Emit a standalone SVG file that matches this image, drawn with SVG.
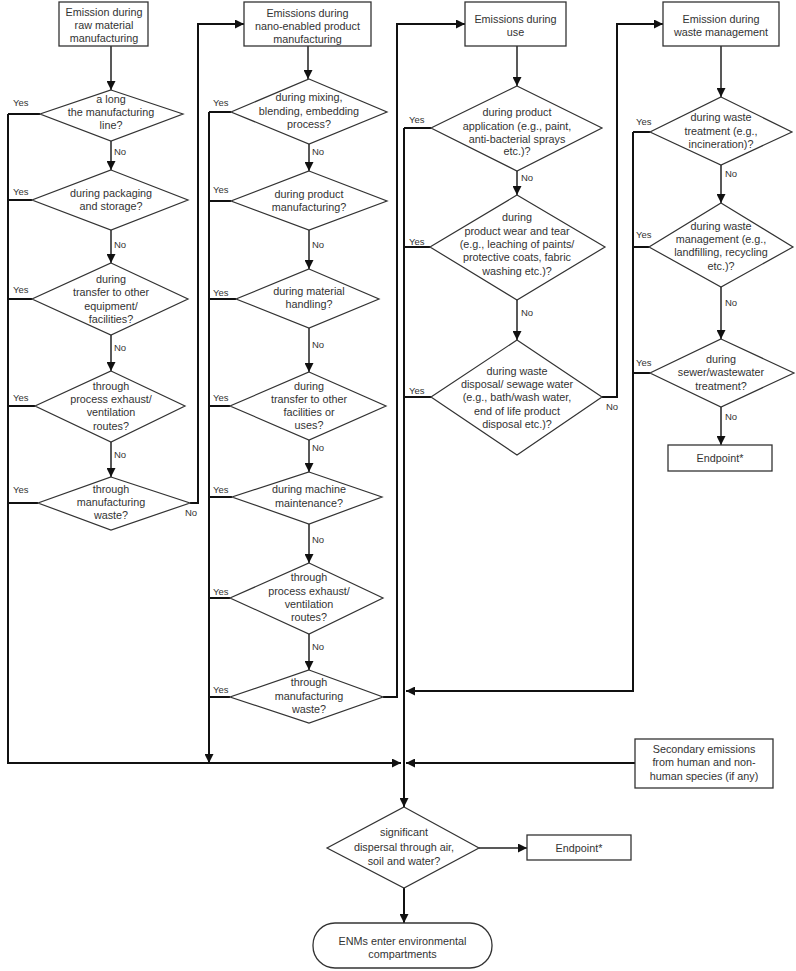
<svg xmlns="http://www.w3.org/2000/svg" width="796" height="971" viewBox="0 0 796 971">
<style>
.bx{fill:#fff;stroke:#333;stroke-width:1.3}
.dm{fill:#fff;stroke:#333;stroke-width:1.2}
.t{font-family:"Liberation Sans",Arial,sans-serif;font-size:10.8px;fill:#333;text-anchor:middle}
.l{font-family:"Liberation Sans",Arial,sans-serif;font-size:9.5px;fill:#333}
.w{fill:none;stroke:#111;stroke-width:2}
.a{fill:none;stroke:#222;stroke-width:1.5}
</style>
<defs>
<marker id="ah" viewBox="0 0 10 10" refX="10" refY="5" markerWidth="9" markerHeight="9" markerUnits="userSpaceOnUse" orient="auto">
<path d="M0,0 L10,5 L0,10 z" fill="#111"/>
</marker>
</defs>
<rect width="796" height="971" fill="#fff"/>

<g id="connectors">
<!-- column 1 -->
<path class="a" d="M111,46 V90" marker-end="url(#ah)"/>
<path class="a" d="M111,141 V170" marker-end="url(#ah)"/>
<path class="a" d="M111,230 V263" marker-end="url(#ah)"/>
<path class="a" d="M111,335 V371" marker-end="url(#ah)"/>
<path class="a" d="M111,442 V477" marker-end="url(#ah)"/>
<path class="w" d="M40,114 H8 M32,200 H8 M32,299 H8 M35,406 H8 M38,503 H8"/>
<path class="w" d="M8,114 V763 H401" marker-end="url(#ah)"/>
<path class="w" d="M190,503 H198 V24 H244" marker-end="url(#ah)"/>
<!-- column 2 -->
<path class="a" d="M308,46 V79" marker-end="url(#ah)"/>
<path class="a" d="M309,144 V171" marker-end="url(#ah)"/>
<path class="a" d="M309,230 V269" marker-end="url(#ah)"/>
<path class="a" d="M309,328 V372" marker-end="url(#ah)"/>
<path class="a" d="M309,440 V472" marker-end="url(#ah)"/>
<path class="a" d="M309,524 V563" marker-end="url(#ah)"/>
<path class="a" d="M309,634 V670" marker-end="url(#ah)"/>
<path class="w" d="M231,112 H209 M231,201 H209 M236,299 H209 M230,406 H209 M232,497 H209 M230,598 H209 M230,697 H209"/>
<path class="w" d="M209,112 V763" marker-end="url(#ah)"/>
<path class="w" d="M383,697 H397 V24 H465" marker-end="url(#ah)"/>
<!-- column 3 -->
<path class="a" d="M517,46 V86" marker-end="url(#ah)"/>
<path class="a" d="M517,171 V195" marker-end="url(#ah)"/>
<path class="a" d="M517,300 V340" marker-end="url(#ah)"/>
<path class="w" d="M431,128 H404 M430,247 H404 M431,397 H404"/>
<path class="w" d="M404,128 V807" marker-end="url(#ah)"/>
<path class="w" d="M602,397 H617 V24 H663" marker-end="url(#ah)"/>
<!-- column 4 -->
<path class="a" d="M721,46 V97" marker-end="url(#ah)"/>
<path class="a" d="M721,165 V203" marker-end="url(#ah)"/>
<path class="a" d="M721,287 V339" marker-end="url(#ah)"/>
<path class="a" d="M721,407 V445" marker-end="url(#ah)"/>
<path class="w" d="M650,132 H633 M649,247 H633 M650,373 H633"/>
<path class="w" d="M633,132 V691 H406" marker-end="url(#ah)"/>
<!-- bottom -->
<path class="w" d="M635,763 H406" marker-end="url(#ah)"/>
<path class="a" d="M479,848 H527" marker-end="url(#ah)"/>
<path class="w" d="M404,888 V923" marker-end="url(#ah)"/>

<!-- Yes / No labels -->
<g class="l">
<text x="13" y="106">Yes</text>
<text x="13" y="195">Yes</text>
<text x="13" y="293">Yes</text>
<text x="13" y="401">Yes</text>
<text x="13" y="493">Yes</text>
<text x="114" y="155">No</text>
<text x="114" y="248">No</text>
<text x="114" y="351">No</text>
<text x="114" y="458">No</text>
<text x="185" y="516">No</text>
<text x="213" y="106">Yes</text>
<text x="213" y="193">Yes</text>
<text x="213" y="296">Yes</text>
<text x="213" y="401">Yes</text>
<text x="213" y="493">Yes</text>
<text x="213" y="595">Yes</text>
<text x="213" y="693">Yes</text>
<text x="312" y="155">No</text>
<text x="312" y="248">No</text>
<text x="312" y="348">No</text>
<text x="312" y="451">No</text>
<text x="312" y="543">No</text>
<text x="312" y="650">No</text>
<text x="409" y="123">Yes</text>
<text x="409" y="245">Yes</text>
<text x="409" y="394">Yes</text>
<text x="521" y="181">No</text>
<text x="521" y="316">No</text>
<text x="606" y="410">No</text>
<text x="636" y="125">Yes</text>
<text x="636" y="238">Yes</text>
<text x="636" y="366">Yes</text>
<text x="725" y="177">No</text>
<text x="725" y="306">No</text>
<text x="725" y="420">No</text>
</g>
</g>

<!-- Column 1 -->
<g id="n_raw">
<rect class="bx" x="59" y="2" width="89" height="44"/>
<text class="t" x="104" y="16">Emission during</text>
<text class="t" x="104" y="29">raw material</text>
<text class="t" x="104" y="42">manufacturing</text>
</g>
<g id="d1_line">
<polygon class="dm" points="111,90 183,114 111,141 40,114"/>
<text class="t" x="111" y="103">a long</text>
<text class="t" x="111" y="116">the manufacturing</text>
<text class="t" x="111" y="129">line?</text>
</g>
<g id="d1_pack">
<polygon class="dm" points="111,170 188,200 111,230 32,200"/>
<text class="t" x="111" y="197">during packaging</text>
<text class="t" x="111" y="210">and storage?</text>
</g>
<g id="d1_transfer">
<polygon class="dm" points="111,263 188,299 111,335 32,299"/>
<text class="t" x="111" y="283">during</text>
<text class="t" x="111" y="296">transfer to other</text>
<text class="t" x="111" y="310">equipment/</text>
<text class="t" x="111" y="323">facilities?</text>
</g>
<g id="d1_exhaust">
<polygon class="dm" points="111,371 185,406 111,442 35,406"/>
<text class="t" x="111" y="390">through</text>
<text class="t" x="111" y="403">process exhaust/</text>
<text class="t" x="111" y="416">ventilation</text>
<text class="t" x="111" y="430">routes?</text>
</g>
<g id="d1_waste">
<polygon class="dm" points="111,477 190,503 111,530 38,503"/>
<text class="t" x="111" y="493">through</text>
<text class="t" x="111" y="506">manufacturing</text>
<text class="t" x="111" y="519">waste?</text>
</g>

<!-- Column 2 -->
<g id="n_nano">
<rect class="bx" x="244" y="2" width="127" height="44"/>
<text class="t" x="307.5" y="17">Emissions during</text>
<text class="t" x="307.5" y="30">nano-enabled product</text>
<text class="t" x="307.5" y="43">manufacturing</text>
</g>
<g id="d2_mix">
<polygon class="dm" points="309,79 387,112 309,144 231,112"/>
<text class="t" x="309" y="101">during mixing,</text>
<text class="t" x="309" y="115">blending, embedding</text>
<text class="t" x="309" y="128">process?</text>
</g>
<g id="d2_prod">
<polygon class="dm" points="309,171 387,201 309,230 231,201"/>
<text class="t" x="309" y="198">during product</text>
<text class="t" x="309" y="211">manufacturing?</text>
</g>
<g id="d2_handling">
<polygon class="dm" points="309,269 379,299 309,328 236,299"/>
<text class="t" x="309" y="295">during material</text>
<text class="t" x="309" y="308">handling?</text>
</g>
<g id="d2_transfer">
<polygon class="dm" points="309,372 386,406 309,440 230,406"/>
<text class="t" x="309" y="390">during</text>
<text class="t" x="309" y="403">transfer to other</text>
<text class="t" x="309" y="416">facilities or</text>
<text class="t" x="309" y="429">uses?</text>
</g>
<g id="d2_maint">
<polygon class="dm" points="309,472 382,497 309,524 232,497"/>
<text class="t" x="309" y="493">during machine</text>
<text class="t" x="309" y="507">maintenance?</text>
</g>
<g id="d2_exhaust">
<polygon class="dm" points="309,563 383,598 309,634 230,598"/>
<text class="t" x="309" y="581">through</text>
<text class="t" x="309" y="595">process exhaust/</text>
<text class="t" x="309" y="608">ventilation</text>
<text class="t" x="309" y="621">routes?</text>
</g>
<g id="d2_waste">
<polygon class="dm" points="309,670 383,697 309,723 230,697"/>
<text class="t" x="309" y="686">through</text>
<text class="t" x="309" y="700">manufacturing</text>
<text class="t" x="309" y="713">waste?</text>
</g>

<!-- Column 3 -->
<g id="n_use">
<rect class="bx" x="465" y="2" width="101" height="44"/>
<text class="t" x="515.5" y="23">Emissions during</text>
<text class="t" x="515.5" y="36">use</text>
</g>
<g id="d3_app">
<polygon class="dm" points="517,86 602,128 517,171 431,128"/>
<text class="t" x="517" y="116">during product</text>
<text class="t" x="517" y="130">application (e.g., paint,</text>
<text class="t" x="517" y="143">anti-bacterial sprays</text>
<text class="t" x="517" y="155">etc.)?</text>
</g>
<g id="d3_wear">
<polygon class="dm" points="517,195 605,247 517,300 430,247"/>
<text class="t" x="517" y="221">during</text>
<text class="t" x="517" y="235">product wear and tear</text>
<text class="t" x="517" y="248">(e.g., leaching of paints/</text>
<text class="t" x="517" y="261">protective coats, fabric</text>
<text class="t" x="517" y="275">washing etc.)?</text>
</g>
<g id="d3_disposal">
<polygon class="dm" points="517,340 602,397 517,455 431,397"/>
<text class="t" x="517" y="375">during waste</text>
<text class="t" x="517" y="388">disposal/ sewage water</text>
<text class="t" x="517" y="401">(e.g., bath/wash water,</text>
<text class="t" x="517" y="415">end of life product</text>
<text class="t" x="517" y="428">disposal etc.)?</text>
</g>

<!-- Column 4 -->
<g id="n_wastemgmt">
<rect class="bx" x="663" y="2" width="116" height="44"/>
<text class="t" x="721" y="23">Emission during</text>
<text class="t" x="721" y="36">waste management</text>
</g>
<g id="d4_treat">
<polygon class="dm" points="721,97 792,132 721,165 650,132"/>
<text class="t" x="721" y="121">during waste</text>
<text class="t" x="721" y="135">treatment (e.g.,</text>
<text class="t" x="721" y="148">incineration)?</text>
</g>
<g id="d4_mgmt">
<polygon class="dm" points="721,203 793,247 721,287 649,247"/>
<text class="t" x="721" y="230">during waste</text>
<text class="t" x="721" y="243">management (e.g.,</text>
<text class="t" x="721" y="256">landfilling, recycling</text>
<text class="t" x="721" y="270">etc.)?</text>
</g>
<g id="d4_sewer">
<polygon class="dm" points="721,339 794,373 721,407 650,373"/>
<text class="t" x="721" y="363">during</text>
<text class="t" x="721" y="376">sewer/wastewater</text>
<text class="t" x="721" y="390">treatment?</text>
</g>
<g id="n_endpoint1">
<rect class="bx" x="668" y="445" width="104" height="26"/>
<text class="t" x="720" y="462">Endpoint*</text>
</g>

<!-- Bottom -->
<g id="n_secondary">
<rect class="bx" x="635" y="739" width="138" height="49"/>
<text class="t" x="704" y="753">Secondary emissions</text>
<text class="t" x="704" y="766">from human and non-</text>
<text class="t" x="704" y="780">human species (if any)</text>
</g>
<g id="d_dispersal">
<polygon class="dm" points="404,807 479,848 404,888 327,848"/>
<text class="t" x="404" y="836">significant</text>
<text class="t" x="404" y="851">dispersal through air,</text>
<text class="t" x="404" y="865">soil and water?</text>
</g>
<g id="n_endpoint2">
<rect class="bx" x="527" y="835" width="104" height="25"/>
<text class="t" x="579" y="852">Endpoint*</text>
</g>
<g id="n_enms">
<rect class="bx" x="313" y="923" width="179" height="45" rx="22" ry="22"/>
<text class="t" x="402.5" y="945">ENMs enter environmental</text>
<text class="t" x="402.5" y="958">compartments</text>
</g>
</svg>
